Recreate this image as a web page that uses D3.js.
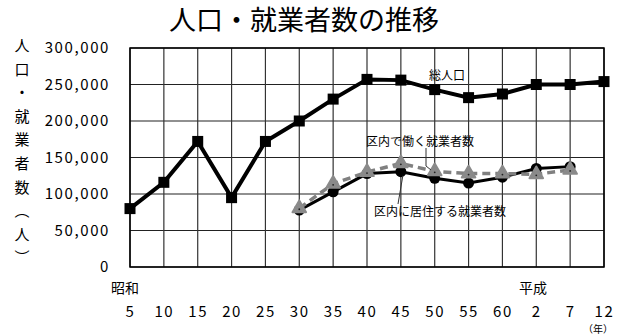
<!DOCTYPE html>
<html>
<head>
<meta charset="utf-8">
<script src="https://cdn.jsdelivr.net/npm/d3@7"></script>
<style>
  body { margin: 0; background: #fff; }
  text { font-family: "Noto Sans CJK JP", "Noto Sans", sans-serif; fill: #000; }
</style>
</head>
<body>
<svg width="622" height="336"></svg>
<script>
// 年（昭和5年〜平成12年）
var years = ["5", "10", "15", "20", "25", "30", "35", "40", "45", "50", "55", "60", "2", "7", "12"];
// 総人口
var totalPop = [80000, 116000, 172000, 95000, 172000, 200000, 230000, 257000, 256000, 243000, 232000, 237000, 250000, 250000, 254000];
// 区内に居住する就業者数 (昭和30年から)
var residentWorkers = [null, null, null, null, null, 78000, 103000, 128000, 130500, 121500, 115000, 123000, 135000, 137500, null];
// 区内で働く就業者数 (昭和30年から)
var localWorkers = [null, null, null, null, null, 80500, 114000, 130000, 142000, 131000, 128000, 128000, 127000, 133000, null];
var yTicks = [0, 50000, 100000, 150000, 200000, 250000, 300000];
var yTitle = ["人", "口", "・", "就", "業", "者", "数", "︵", "人", "︶"];

var svg = d3.select("svg"),
    pl = 130, pr = 604, pt = 48, pb = 267;

var x = d3.scalePoint().domain(years).range([pl, pr]);
var y = d3.scaleLinear().domain([0, 300000]).range([pb, pt]);

// title
svg.append("text")
    .attr("x", 304).attr("y", 30)
    .attr("text-anchor", "middle")
    .style("font-size", "27px")
    .text("人口・就業者数の推移");

// grid
var grid = svg.append("g");
grid.selectAll(".hl").data(yTicks).enter().append("line")
    .attr("x1", pl).attr("x2", pr)
    .attr("y1", function(d) { return y(d); })
    .attr("y2", function(d) { return y(d); })
    .attr("stroke", "#222").attr("stroke-width", 1.2);
grid.selectAll(".vl").data(years).enter().append("line")
    .attr("x1", function(d) { return x(d); })
    .attr("x2", function(d) { return x(d); })
    .attr("y1", pt).attr("y2", pb)
    .attr("stroke", "#333").attr("stroke-width", 1.2);
svg.append("rect")
    .attr("x", pl).attr("y", pt)
    .attr("width", pr - pl).attr("height", pb - pt)
    .attr("fill", "none").attr("stroke", "#000").attr("stroke-width", 1.5);

// y axis labels
var yAxis = d3.axisLeft(y).tickValues(yTicks).tickSize(0).tickPadding(20)
    .tickFormat(d3.format(","));
svg.append("g")
    .attr("transform", "translate(" + pl + ",0)")
    .call(yAxis)
    .call(function(g) { g.select(".domain").remove(); })
    .selectAll("text")
    .style("font-size", "15px")
    .style("letter-spacing", "1.6px")
    .style("font-family", "\"Noto Sans CJK JP\", sans-serif");

// y title, vertical
svg.selectAll(".yt").data(yTitle).enter().append("text")
    .attr("x", 22)
    .attr("y", function(d, i) { return 51 + i * 23.6; })
    .attr("text-anchor", "middle")
    .style("font-size", "15px")
    .text(function(d) { return d; });

// x axis labels
var xAxis = d3.axisBottom(x).tickSize(0).tickPadding(39);
svg.append("g")
    .attr("transform", "translate(0," + pb + ")")
    .call(xAxis)
    .call(function(g) { g.select(".domain").remove(); })
    .selectAll("text")
    .style("font-size", "15px")
    .style("letter-spacing", "1.6px")
    .style("font-family", "\"Noto Sans CJK JP\", sans-serif");

svg.append("text").attr("x", 125).attr("y", 293).attr("text-anchor", "middle")
    .style("font-size", "14px").text("昭和");
svg.append("text").attr("x", 533).attr("y", 293).attr("text-anchor", "middle")
    .style("font-size", "14px").text("平成");
svg.append("text").attr("x", 598).attr("y", 333).attr("text-anchor", "middle")
    .style("font-size", "10px").text("（年）");

var line = d3.line()
    .defined(function(d) { return d.v != null; })
    .x(function(d) { return x(d.k); })
    .y(function(d) { return y(d.v); });

function pairs(arr) {
  return years.map(function(k, i) { return { k: k, v: arr[i] }; });
}

// total population
svg.append("path").datum(pairs(totalPop))
    .attr("d", line).attr("fill", "none")
    .attr("stroke", "#000").attr("stroke-width", 4);
svg.selectAll(".sq").data(pairs(totalPop)).enter().append("rect")
    .attr("x", function(d) { return x(d.k) - 5.5; })
    .attr("y", function(d) { return y(d.v) - 5.5; })
    .attr("width", 11).attr("height", 11)
    .attr("fill", "#000");

// resident workers
var res = pairs(residentWorkers).filter(function(d) { return d.v != null; });
svg.append("path").datum(res)
    .attr("d", line).attr("fill", "none")
    .attr("stroke", "#000").attr("stroke-width", 3);
svg.selectAll(".ci").data(res).enter().append("circle")
    .attr("cx", function(d) { return x(d.k); })
    .attr("cy", function(d) { return y(d.v); })
    .attr("r", 5.5).attr("fill", "#000");

// local workers
var loc = pairs(localWorkers).filter(function(d) { return d.v != null; });
svg.append("path").datum(loc)
    .attr("d", line).attr("fill", "none")
    .attr("stroke", "#808080").attr("stroke-width", 3.5)
    .attr("stroke-dasharray", "8,5");
var tri = d3.symbol().type(d3.symbolTriangle).size(80);
svg.selectAll(".tr").data(loc).enter().append("path")
    .attr("d", tri)
    .attr("transform", function(d) { return "translate(" + x(d.k) + "," + y(d.v) + ")"; })
    .attr("fill", "#8a8a8a").attr("stroke", "#8a8a8a").attr("stroke-width", 2)
    .attr("stroke-linejoin", "round");
svg.selectAll(".td").data(loc).enter().append("circle")
    .attr("cx", function(d) { return x(d.k); })
    .attr("cy", function(d) { return y(d.v) + 1; })
    .attr("r", 0.9).attr("fill", "#222");

// annotations
svg.append("text").attr("x", 447).attr("y", 80).attr("text-anchor", "middle")
    .style("font-size", "12px").text("総人口");
svg.append("text").attr("x", 420).attr("y", 146).attr("text-anchor", "middle")
    .style("font-size", "12px").text("区内で働く就業者数");
svg.append("text").attr("x", 440).attr("y", 216).attr("text-anchor", "middle")
    .style("font-size", "12px").text("区内に居住する就業者数");

svg.append("polyline")
    .attr("points", [[426, 148], [426, 166], [431, 170]].join(" "))
    .attr("fill", "none").attr("stroke", "#333").attr("stroke-width", 1);
svg.append("line")
    .attr("x1", x("45") + 2).attr("y1", y(residentWorkers[8]) + 4)
    .attr("x2", 398).attr("y2", 204)
    .attr("stroke", "#333").attr("stroke-width", 1);
</script>
</body>
</html>
